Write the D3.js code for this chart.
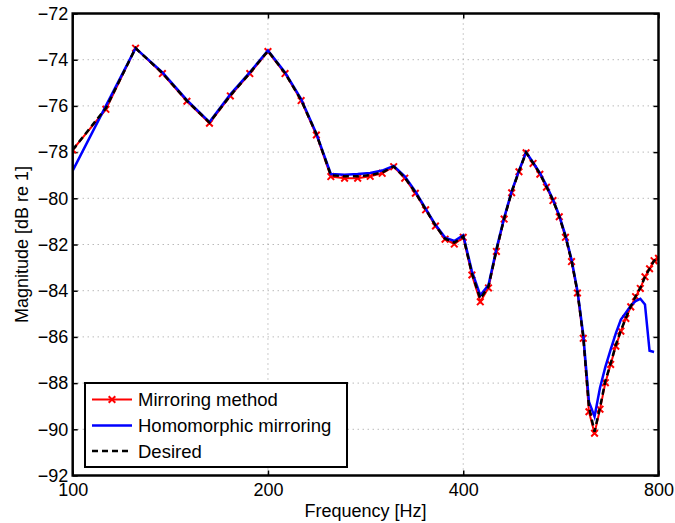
<!DOCTYPE html>
<html><head><meta charset="utf-8">
<script src="https://cdn.jsdelivr.net/npm/d3@7"></script>
<style>body{margin:0;background:#fff}svg{display:block}text{font-family:"Liberation Sans",Arial,sans-serif}</style>
</head><body><svg id="c" width="675" height="523"></svg>
<script>
const freqs = d3.range(57).map(i => 100 + 12.5 * i);
const mirroring = [-77.9,-76.15,-73.5,-74.6,-75.8,-76.75,-75.57,-74.6,-73.65,-74.6,-75.77,-77.26,-79.06,-79.13,-79.13,-79.05,-78.92,-78.63,-79.13,-79.78,-80.5,-81.2,-81.77,-81.98,-81.69,-83.32,-84.48,-83.88,-82.3,-80.9,-79.76,-78.85,-78.03,-78.49,-78.96,-79.52,-80.1,-80.8,-81.69,-82.74,-84.1,-86.06,-89.24,-90.17,-89.13,-87.98,-87.19,-86.4,-85.75,-85.2,-84.7,-84.26,-83.9,-83.4,-83.05,-82.7,-82.6];
const homomorphic = [-78.8,-76.0,-73.5,-74.55,-75.75,-76.7,-75.5,-74.55,-73.6,-74.55,-75.7,-77.2,-78.95,-78.98,-78.95,-78.9,-78.8,-78.6,-79.05,-79.7,-80.45,-81.15,-81.7,-81.85,-81.6,-83.15,-84.2,-83.75,-82.2,-80.85,-79.7,-78.8,-78.0,-78.45,-78.9,-79.45,-80.05,-80.75,-81.6,-82.65,-84.0,-85.9,-88.8,-89.45,-88.2,-87.3,-86.55,-85.85,-85.25,-84.95,-84.65,-84.45,-84.35,-84.6,-86.6,-86.65];
const desired = [-77.9,-76.1,-73.5,-74.58,-75.78,-76.72,-75.55,-74.58,-73.62,-74.58,-75.75,-77.22,-79.0,-79.05,-79.05,-79.0,-78.88,-78.62,-79.1,-79.75,-80.48,-81.18,-81.75,-81.92,-81.65,-83.25,-84.35,-83.82,-82.25,-80.88,-79.73,-78.83,-78.02,-78.47,-78.93,-79.5,-80.08,-80.78,-81.65,-82.7,-84.05,-86.0,-89.05,-90.1,-89.05,-87.9,-87.15,-86.35,-85.72,-85.18,-84.68,-84.25,-83.88,-83.4,-83.05,-82.7,-82.6];
const xTicks = [100, 200, 400, 800];
const yTicks = [-72,-74,-76,-78,-80,-82,-84,-86,-88,-90,-92];
const legendLabels = ["Mirroring method", "Homomorphic mirroring", "Desired"];

const L = 72.7, R = 658.5, T = 13.5, B = 475.5;
const FS = 18;
const svg = d3.select("#c");
const x = d3.scaleLog().base(2).domain([100, 800]).range([L, R]);
const y = d3.scaleLinear().domain([-92, -72]).range([B, T]);

// grid
const grid = svg.append("g").attr("stroke", "#999").attr("stroke-width", 1).attr("stroke-dasharray", "1,4");
xTicks.slice(1, -1).forEach(t => grid.append("line").attr("x1", x(t)).attr("x2", x(t)).attr("y1", T).attr("y2", B));
yTicks.slice(1, -1).forEach(t => grid.append("line").attr("x1", L).attr("x2", R).attr("y1", y(t)).attr("y2", y(t)));

// axes
const xAxis = d3.axisBottom(x).tickValues(xTicks).tickFormat(d3.format("d")).tickSizeInner(-5).tickSizeOuter(0).tickPadding(8);
const yAxis = d3.axisLeft(y).tickValues(yTicks).tickFormat(d => "\u2212" + Math.abs(d)).tickSizeInner(-5).tickSizeOuter(0).tickPadding(4.5);
const gx = svg.append("g").attr("transform", `translate(0,${B})`).call(xAxis);
const gy = svg.append("g").attr("transform", `translate(${L},0)`).call(yAxis);
svg.append("g").attr("transform", `translate(0,${T})`).call(d3.axisTop(x).tickValues(xTicks).tickFormat("").tickSizeInner(-5).tickSizeOuter(0));
svg.append("g").attr("transform", `translate(${R},0)`).call(d3.axisRight(y).tickValues(yTicks).tickFormat("").tickSizeInner(-5).tickSizeOuter(0));
svg.selectAll(".domain").remove();
svg.selectAll(".tick line").attr("stroke", "#000").attr("stroke-width", 1.5);
[gx, gy].forEach(g => g.selectAll("text").attr("font-size", FS).attr("fill", "#000"));

const clip = svg.append("clipPath").attr("id", "clip").append("rect").attr("x", L).attr("y", T).attr("width", R - L).attr("height", B - T);
const plot = svg.append("g").attr("clip-path", "url(#clip)");
const line = d3.line().x((d, i) => x(freqs[i])).y(d => y(d));

plot.append("path").datum(mirroring).attr("d", line).attr("fill", "none").attr("stroke", "#ff0000").attr("stroke-width", 2);
const mk = 3.3;
plot.append("g").selectAll("path").data(mirroring).join("path")
  .attr("d", (d, i) => { const cx = x(freqs[i]), cy = y(d); return `M${cx-mk},${cy-mk}L${cx+mk},${cy+mk}M${cx-mk},${cy+mk}L${cx+mk},${cy-mk}`; })
  .attr("stroke", "#ff0000").attr("stroke-width", 2);
plot.append("path").datum(homomorphic).attr("d", line).attr("fill", "none").attr("stroke", "#0000ff").attr("stroke-width", 2.5);
plot.append("path").datum(desired).attr("d", line).attr("fill", "none").attr("stroke", "#000").attr("stroke-width", 2.5).attr("stroke-dasharray", "6,4");

// frame
svg.append("rect").attr("x", L).attr("y", T).attr("width", R - L).attr("height", B - T).attr("fill", "none").attr("stroke", "#000").attr("stroke-width", 2.5);

// labels
svg.append("text").attr("x", (L + R) / 2).attr("y", 517).attr("text-anchor", "middle").attr("font-size", FS).text("Frequency [Hz]");
svg.append("text").attr("transform", `translate(28,${(T + B) / 2}) rotate(-90)`).attr("text-anchor", "middle").attr("font-size", FS).text("Magnitude [dB re 1]");

// legend
const lg = svg.append("g");
lg.append("rect").attr("x", 85).attr("y", 383).attr("width", 262).attr("height", 84).attr("fill", "#fff").attr("stroke", "#000").attr("stroke-width", 2);
const ly = [399.5, 425.5, 451];
const colors = ["#ff0000", "#0000ff", "#000"];
legendLabels.forEach((t, i) => {
  const l = lg.append("line").attr("x1", 92).attr("x2", 132).attr("y1", ly[i]).attr("y2", ly[i]).attr("stroke", colors[i]).attr("stroke-width", i === 0 ? 2 : 2.5);
  if (i === 2) l.attr("stroke-dasharray", "6,4");
  if (i === 0) lg.append("path").attr("d", `M${112-mk},${ly[i]-mk}L${112+mk},${ly[i]+mk}M${112-mk},${ly[i]+mk}L${112+mk},${ly[i]-mk}`).attr("stroke", "#ff0000").attr("stroke-width", 2);
  lg.append("text").attr("x", 138).attr("y", ly[i]).attr("dy", "0.36em").attr("font-size", 18.5).text(t);
});
</script></body></html>
